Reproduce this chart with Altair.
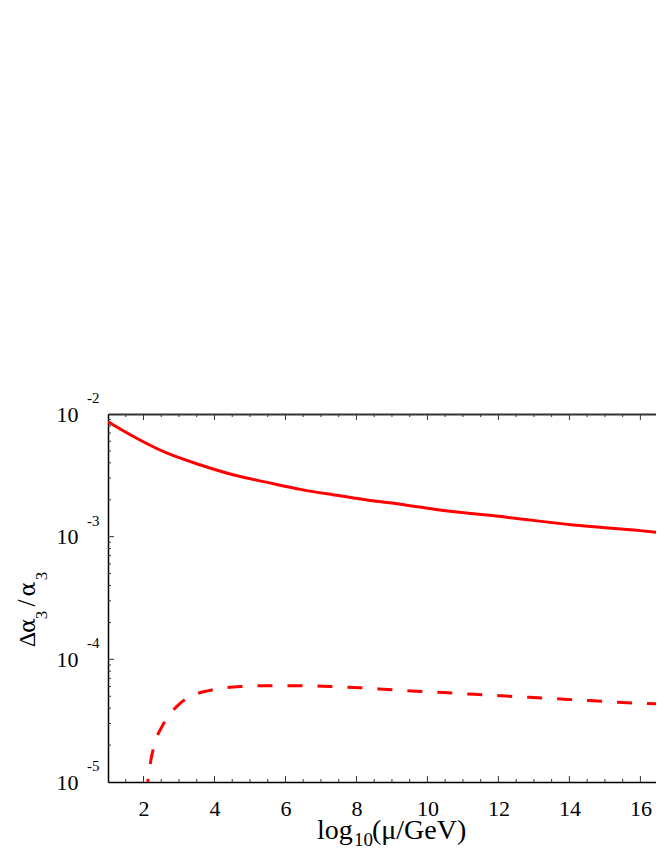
import altair as alt
import pandas as pd

# ---- data ----
solid_x = [1.0, 1.73, 2.67, 3.61, 4.55, 5.49, 6.42, 7.36, 8.30, 9.24, 10.35, 12.23, 14.11, 15.99, 16.67]
solid_y = [8.65e-3, 6.53e-3, 4.79e-3, 3.84e-3, 3.18e-3, 2.77e-3, 2.43e-3, 2.19e-3, 1.99e-3, 1.84e-3,
           1.65e-3, 1.44e-3, 1.245e-3, 1.12e-3, 1.07e-3]

dash_x = [2.08, 2.12, 2.21, 2.33, 2.52, 3.04, 3.42, 3.84, 4.73, 5.58, 6.42, 7.27, 8.11, 9.05, 9.90,
          10.74, 11.63, 12.48, 13.37, 14.21, 15.06, 15.95, 16.67]
dash_y = [8.0e-6, 1.0e-5, 1.51e-5, 2.13e-5, 2.83e-5, 4.39e-5, 5.13e-5, 5.56e-5, 6.0e-5, 6.1e-5, 6.1e-5,
          6.0e-5, 5.87e-5, 5.63e-5, 5.46e-5, 5.30e-5, 5.13e-5, 4.97e-5, 4.82e-5, 4.67e-5, 4.52e-5,
          4.39e-5, 4.31e-5]

x_label_values = [2, 4, 6, 8, 10, 12, 14, 16]
x_major = [2, 4, 6, 8, 10, 12, 14, 16]
x_minor = [1.5, 2.5, 3, 3.5, 4.5, 5, 5.5, 6.5, 7, 7.5, 8.5, 9, 9.5, 10.5, 11, 11.5,
           12.5, 13, 13.5, 14.5, 15, 15.5, 16.5]

y_label_values = [1e-5, 1e-4, 1e-3, 1e-2]
y_exponents = ["-5", "-4", "-3", "-2"]
y_major = [1e-4, 1e-3]
y_minor = [2e-5, 3e-5, 4e-5, 5e-5, 6e-5, 7e-5, 8e-5, 9e-5,
           2e-4, 3e-4, 4e-4, 5e-4, 6e-4, 7e-4, 8e-4, 9e-4,
           2e-3, 3e-3, 4e-3, 5e-3, 6e-3, 7e-3, 8e-3, 9e-3]

x_title_parts = ["log", "10", "(\u03bc/GeV)"]
y_title_parts = ["\u0394", "\u03b1", "3", "/", "\u03b1", "3"]

# ---- styling ----
W, H = 548, 368
FONT = "Liberation Serif"
GREEK = "DejaVu Serif"
RED = "#ff0000"
TICK = "#333333"

xs = alt.Scale(domain=[1, 16.44], nice=False, zero=False)
ys = alt.Scale(type="log", domain=[1e-5, 1e-2], nice=False)

solid = alt.Chart(pd.DataFrame({"x": solid_x, "y": solid_y})).mark_line(
    color=RED, strokeWidth=3, clip=True, interpolate="monotone"
).encode(
    x=alt.X("x:Q", scale=xs, axis=alt.Axis(
        orient="bottom", values=x_label_values, title=None, grid=False, ticks=False, tickSize=0,
        labelFont=FONT, labelFontSize=22, labelPadding=16, labelColor="black",
        domainColor="black", domainWidth=1.5, labelFlush=False, labelOverlap=False, format="d")),
    y=alt.Y("y:Q", scale=ys, axis=alt.Axis(
        orient="left", values=y_label_values, labelExpr="'10'", title=None, grid=False,
        ticks=False, tickSize=0,
        labelFont=FONT, labelFontSize=22, labelPadding=30, labelColor="black",
        domainColor="black", domainWidth=1.5, labelOverlap=False, labelFlush=False)),
)

dashed = alt.Chart(pd.DataFrame({"x": dash_x, "y": dash_y})).mark_line(
    color=RED, strokeWidth=3, clip=True, interpolate="monotone", strokeDash=[15, 15]
).encode(
    x=alt.X("x:Q", scale=xs, axis=None),
    y=alt.Y("y:Q", scale=ys, axis=None),
)

def xticks(vals, y0, y1, top_axis=False):
    ax = None
    if top_axis:
        ax = alt.Axis(orient="top", labels=False, ticks=False, grid=False, title=None,
                      domainColor=TICK, domainWidth=2)
    return alt.Chart(pd.DataFrame({"x": vals})).mark_rule(color=TICK, strokeWidth=1).encode(
        x=alt.X("x:Q", scale=xs, axis=ax), y=alt.value(y0), y2=alt.value(y1))

def yticks(vals, length):
    return alt.Chart(pd.DataFrame({"y": vals})).mark_rule(color=TICK, strokeWidth=1).encode(
        y=alt.Y("y:Q", scale=ys, axis=None), x=alt.value(0), x2=alt.value(length))

ticks = [
    xticks(x_major, H, H - 6),
    xticks(x_minor, H, H - 3),
    xticks(x_major, 0, 6, top_axis=True),
    xticks(x_minor, 0, 3),
    yticks(y_major, 6),
    yticks(y_minor, 3),
]

sup = alt.Chart(pd.DataFrame({"y": y_label_values, "t": y_exponents})).mark_text(
    font=FONT, fontSize=15, align="left", baseline="alphabetic", dy=-11, color="black"
).encode(x=alt.value(-21), y=alt.Y("y:Q", scale=ys, axis=None), text="t:N")

def label(txt, x, y, size, angle=0, align="left", font=FONT):
    kw = dict(font=font, fontSize=size, align=align, baseline="alphabetic", color="black")
    if angle:
        kw["angle"] = angle
    return alt.Chart(pd.DataFrame({"t": [txt]})).mark_text(**kw).encode(
        x=alt.value(x), y=alt.value(y), text="t:N")

titles = [
    label(x_title_parts[0], 209, 425, 28),
    label(x_title_parts[1], 246, 432, 19),
    label(x_title_parts[2], 264, 425, 28),
    label(y_title_parts[0], -73, 225.5, 24, 270, "center"),
    label(y_title_parts[1], -73, 211.5, 22, 270, "center", GREEK),
    label(y_title_parts[2], -61, 201, 17, 270, "center"),
    label(y_title_parts[3], -73, 189, 25, 270, "center"),
    label(y_title_parts[4], -73, 175, 22, 270, "center", GREEK),
    label(y_title_parts[5], -61, 162, 17, 270, "center"),
]

chart = alt.layer(solid, dashed, *ticks, sup, *titles).resolve_axis(
    x="independent", y="independent"
).properties(
    width=W, height=H,
    padding={"left": 100, "top": 406, "right": 0, "bottom": 68},
    autosize="none",
    background="white",
).configure_view(strokeWidth=0)

chart.save("out.html", embed_options={"renderer": "svg", "actions": False})
